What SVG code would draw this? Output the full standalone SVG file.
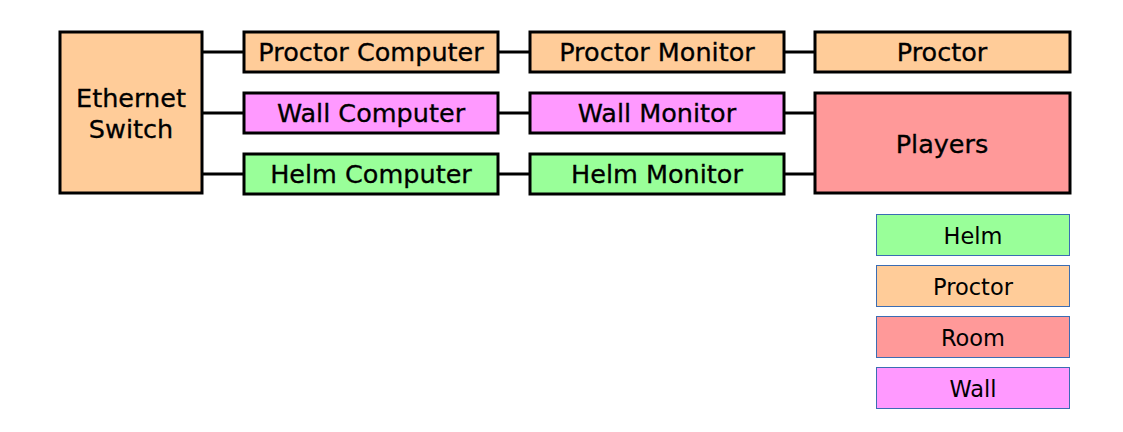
<svg xmlns="http://www.w3.org/2000/svg" width="1123" height="432" viewBox="0 0 1123 432">
<style>
.n{stroke:#000;stroke-width:3}
.t{font-family:"DejaVu Sans",sans-serif;font-size:25.5px;text-anchor:middle;dominant-baseline:central;fill:#000;stroke:#000;stroke-width:0.3}
.lg{stroke:#3b6db3;stroke-width:1}
.lt{font-family:"DejaVu Sans",sans-serif;font-size:22.5px;text-anchor:middle;dominant-baseline:central;fill:#000}
.c{stroke:#000;stroke-width:3;fill:none}
.o{fill:#ffcc99}.m{fill:#ff99ff}.g{fill:#99ff99}.r{fill:#ff9999}
</style>
<rect width="1123" height="432" fill="#fff"/>
<g id="connectors">
<line class="c" x1="202" y1="52" x2="244" y2="52"/>
<line class="c" x1="202" y1="113" x2="244" y2="113"/>
<line class="c" x1="202" y1="174" x2="244" y2="174"/>
<line class="c" x1="498" y1="52" x2="530" y2="52"/>
<line class="c" x1="498" y1="113" x2="530" y2="113"/>
<line class="c" x1="498" y1="174" x2="530" y2="174"/>
<line class="c" x1="784" y1="52" x2="815" y2="52"/>
<line class="c" x1="784" y1="113" x2="815" y2="113"/>
<line class="c" x1="784" y1="174" x2="815" y2="174"/>
</g>
<g id="switch"><rect class="n o" x="60" y="32" width="142" height="161"/><text class="t" x="131" y="98">Ethernet</text><text class="t" x="131" y="129">Switch</text></g>
<g id="proctor-computer"><rect class="n o" x="244" y="32" width="254" height="40"/><text class="t" x="371" y="52">Proctor Computer</text></g>
<g id="wall-computer"><rect class="n m" x="244" y="93" width="254" height="40"/><text class="t" x="371" y="113">Wall Computer</text></g>
<g id="helm-computer"><rect class="n g" x="244" y="154" width="254" height="40"/><text class="t" x="371" y="174">Helm Computer</text></g>
<g id="proctor-monitor"><rect class="n o" x="530" y="32" width="254" height="40"/><text class="t" x="657" y="52">Proctor Monitor</text></g>
<g id="wall-monitor"><rect class="n m" x="530" y="93" width="254" height="40"/><text class="t" x="657" y="113">Wall Monitor</text></g>
<g id="helm-monitor"><rect class="n g" x="530" y="154" width="254" height="40"/><text class="t" x="657" y="174">Helm Monitor</text></g>
<g id="proctor"><rect class="n o" x="815" y="32" width="255" height="40"/><text class="t" x="942" y="52">Proctor</text></g>
<g id="players"><rect class="n r" x="815" y="93" width="255" height="100"/><text class="t" x="942" y="144">Players</text></g>
<g id="legend-helm"><rect class="lg g" x="876.5" y="214.5" width="193" height="41"/><text class="lt" x="973" y="236">Helm</text></g>
<g id="legend-proctor"><rect class="lg o" x="876.5" y="265.5" width="193" height="41"/><text class="lt" x="973" y="287">Proctor</text></g>
<g id="legend-room"><rect class="lg r" x="876.5" y="316.5" width="193" height="41"/><text class="lt" x="973" y="338">Room</text></g>
<g id="legend-wall"><rect class="lg m" x="876.5" y="367.5" width="193" height="41"/><text class="lt" x="973" y="389">Wall</text></g>
</svg>
